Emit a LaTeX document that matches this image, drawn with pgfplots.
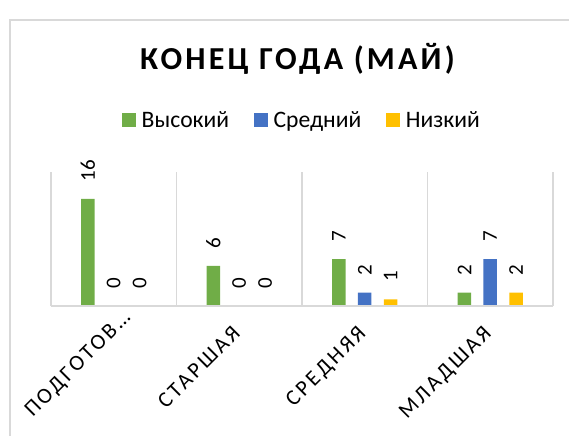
\documentclass[border=0pt]{standalone}
\usepackage{pgfplots}
\pgfplotsset{compat=1.18}
\usepackage{fontspec}
\setmainfont{Carlito}
\newfontfamily\titlefont[LetterSpace=10]{Carlito}
\newfontfamily\catfont[LetterSpace=13]{Carlito}
\definecolor{cgreen}{HTML}{70AD47}
\definecolor{cblue}{HTML}{4472C4}
\definecolor{cyellow}{HTML}{FFC000}
\definecolor{gridc}{HTML}{D9D9D9}
\definecolor{borderc}{HTML}{D9D9D9}
\begin{document}
\begin{tikzpicture}
\useasboundingbox (0,0) rectangle (284.5pt,217.5pt);
\draw[color=borderc, line width=0.75pt] (5.1pt,-2pt) -- (5.1pt,207.5pt) -- (290pt,207.5pt);
\begin{axis}[
  at={(25.5pt,64.5pt)}, anchor=south west,
  scale only axis, width=251pt, height=67pt,
  axis on top,
  ybar=6.15pt, bar width=6.75pt,
  xmin=-0.5, xmax=3.5, ymin=0, ymax=20,
  axis x line*=bottom, axis y line=none,
  x axis line style={draw=gridc, line width=0.6pt, -},
  xtick={0,1,2,3},
  xticklabels={ПОДГОТОВ…\hspace*{-11pt}, СТАРШАЯ, СРЕДНЯЯ, МЛАДШАЯ},
  major tick length=0pt, minor tick length=0pt,
  minor xtick={-0.5,0.5,1.5,2.5,3.5},
  xminorgrids,
  minor grid style={draw=gridc, line width=0.6pt},
  ytick=\empty,
  xticklabel style={xshift=-4pt, yshift=-9pt, rotate=45, anchor=north east, inner sep=0pt, font=\catfont\fontsize{11}{13}\selectfont},
  /pgf/number format/assume math mode=true,
  nodes near coords,
  every node near coord/.append style={font=\fontsize{10.5}{12}\selectfont, black, yshift=8.5pt, rotate=90, anchor=west, inner sep=0pt},
  title={\titlefont\bfseries\fontsize{16}{19}\selectfont КОНЕЦ ГОДА (МАЙ)},
  title style={at={(0.491,1.767)}, anchor=base, yshift=-6pt, inner sep=0pt},
  legend style={draw=none, at={(0.502,1.383)}, anchor=base, legend columns=3,
    font=\fontsize{11.8}{13}\selectfont,
    /tikz/every odd column/.append style={column sep=1pt},
    /tikz/every even column/.append style={column sep=10.5pt}},
  legend image code/.code={\fill (0pt,-3pt) rectangle (6.75pt,3.75pt);},
]
\addplot[draw=none, fill=cgreen] coordinates {(0,16) (1,6) (2,7) (3,2)};
\addplot[draw=none, fill=cblue] coordinates {(0,0) (1,0) (2,2) (3,7)};
\addplot[draw=none, fill=cyellow] coordinates {(0,0) (1,0) (2,1) (3,2)};
\legend{Высокий, Средний, Низкий}
\end{axis}
\end{tikzpicture}
\end{document}
